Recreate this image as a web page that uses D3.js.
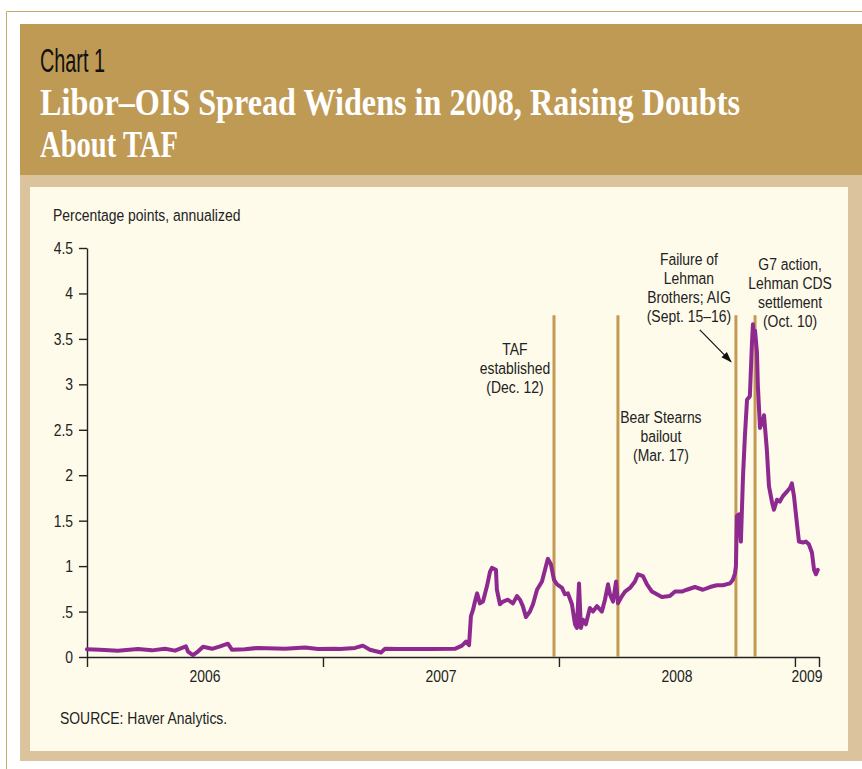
<!DOCTYPE html>
<html>
<head>
<meta charset="utf-8">
<script src="https://cdn.jsdelivr.net/npm/d3@7"></script>
<style>
  body { margin: 0; background: #fff; }
  svg { display: block; }
  .small { font-family: 'Liberation Sans', Arial, sans-serif; font-size: 17px; fill: #222; }
</style>
</head>
<body>
<script>
// Libor-OIS spread, percentage points (time as decimal years)
const years = [2006.000, 2006.055, 2006.131, 2006.216, 2006.275, 2006.331, 2006.373, 2006.419, 2006.428, 2006.449,
  2006.470, 2006.492, 2006.530, 2006.564, 2006.597, 2006.614, 2006.669, 2006.725, 2006.839, 2006.924,
  2006.979, 2007.051, 2007.072, 2007.136, 2007.169, 2007.199, 2007.246, 2007.263, 2007.326, 2007.453,
  2007.559, 2007.589, 2007.606, 2007.619, 2007.627, 2007.636, 2007.644, 2007.653, 2007.665, 2007.678,
  2007.695, 2007.708, 2007.716, 2007.733, 2007.737, 2007.750, 2007.763, 2007.784, 2007.805, 2007.822,
  2007.835, 2007.847, 2007.860, 2007.877, 2007.890, 2007.907, 2007.928, 2007.941, 2007.953, 2007.966,
  2007.979, 2007.992, 2008.013, 2008.025, 2008.038, 2008.055, 2008.068, 2008.076, 2008.085, 2008.093,
  2008.102, 2008.114, 2008.131, 2008.144, 2008.161, 2008.182, 2008.195, 2008.208, 2008.216, 2008.229,
  2008.242, 2008.250, 2008.267, 2008.280, 2008.301, 2008.322, 2008.335, 2008.356, 2008.373, 2008.394,
  2008.415, 2008.436, 2008.470, 2008.492, 2008.521, 2008.542, 2008.576, 2008.610, 2008.640, 2008.669,
  2008.695, 2008.725, 2008.737, 2008.746, 2008.750, 2008.754, 2008.763, 2008.771, 2008.780, 2008.788,
  2008.797, 2008.809, 2008.818, 2008.822, 2008.826, 2008.831, 2008.839, 2008.843, 2008.852, 2008.860,
  2008.869, 2008.881, 2008.890, 2008.903, 2008.911, 2008.924, 2008.936, 2008.949, 2008.966, 2008.979,
  2008.987, 2008.996, 2009.008, 2009.017, 2009.034, 2009.047, 2009.059, 2009.072, 2009.081, 2009.089,
  2009.097];
const spread = [0.084, 0.08, 0.07, 0.088, 0.073, 0.09, 0.07, 0.117, 0.06, 0.02,
  0.06, 0.113, 0.09, 0.117, 0.146, 0.08, 0.085, 0.10, 0.09, 0.105,
  0.088, 0.09, 0.088, 0.10, 0.125, 0.08, 0.05, 0.09, 0.088, 0.088,
  0.09, 0.125, 0.17, 0.13, 0.45, 0.52, 0.61, 0.70, 0.59, 0.61,
  0.78, 0.94, 0.98, 0.96, 0.74, 0.58, 0.61, 0.63, 0.59, 0.67,
  0.63, 0.56, 0.44, 0.50, 0.58, 0.74, 0.83, 0.96, 1.08, 1.02,
  0.85, 0.80, 0.76, 0.69, 0.70, 0.58, 0.36, 0.32, 0.81, 0.32,
  0.41, 0.36, 0.54, 0.50, 0.56, 0.50, 0.63, 0.80, 0.69, 0.61,
  0.83, 0.59, 0.67, 0.72, 0.76, 0.83, 0.91, 0.89, 0.80, 0.72,
  0.69, 0.66, 0.67, 0.72, 0.72, 0.74, 0.77, 0.74, 0.77, 0.79,
  0.79, 0.81, 0.85, 0.92, 1.00, 1.55, 1.57, 1.27, 1.99, 2.43,
  2.83, 2.87, 3.46, 3.66, 3.49, 3.59, 3.35, 2.98, 2.52, 2.58,
  2.66, 2.28, 1.88, 1.70, 1.62, 1.73, 1.71, 1.77, 1.82, 1.86,
  1.91, 1.77, 1.48, 1.27, 1.26, 1.27, 1.24, 1.15, 0.96, 0.91,
  0.96];

const yTicks = [0, 0.5, 1, 1.5, 2, 2.5, 3, 3.5, 4, 4.5];
const yTickLabels = ['0', '.5', '1', '1.5', '2', '2.5', '3', '3.5', '4', '4.5'];
const xBounds = [2006, 2007, 2008, 2009, 2009.102];
const xLabels = ['2006', '2007', '2008', '2009'];

const eventDates = [2007.979, 2008.250, 2008.750, 2008.831];
const eventTop = 3.76;
const eventLabels = [
  ['TAF', 'established', '(Dec. 12)'],
  ['Bear Stearns', 'bailout', '(Mar. 17)'],
  ['Failure of', 'Lehman', 'Brothers; AIG', '(Sept. 15\u201316)'],
  ['G7 action,', 'Lehman CDS', 'settlement', '(Oct. 10)']
];
// arrow from Lehman label to its line: [year, value]
const arrowFrom = [2008.597, 3.60];
const arrowTo = [2008.729, 3.25];

const width = 862, height = 769;
const narrow = 0.82;   // horizontal squeeze to mimic a condensed face

const svg = d3.select('body').append('svg')
  .attr('width', width).attr('height', height);

// condensed text helper: g at (x, y) scaled horizontally
function ctext(parent, px, py, str, anchor) {
  return parent.append('g')
    .attr('transform', `translate(${px},${py}) scale(${narrow},1)`)
    .append('text').attr('class', 'small')
    .attr('text-anchor', anchor || 'start')
    .text(str);
}

const defs = svg.append('defs');
defs.append('marker')
  .attr('id', 'arrow').attr('viewBox', '0 0 10 10')
  .attr('refX', 9).attr('refY', 5)
  .attr('markerWidth', 9).attr('markerHeight', 9)
  .attr('orient', 'auto')
  .append('path').attr('d', 'M0,1.5 L10,5 L0,8.5 Z').attr('fill', '#111');

// frame
svg.append('path')
  .attr('d', `M6.5,${height} V11.5 H${width}`)
  .attr('fill', 'none').attr('stroke', '#c9a86a').attr('stroke-width', 1);
svg.append('rect').attr('x', 20).attr('y', 24).attr('width', width - 20).attr('height', 151).attr('fill', '#bf9a55');
svg.append('rect').attr('x', 20).attr('y', 175).attr('width', width - 20).attr('height', 586).attr('fill', '#dac39d');
svg.append('rect').attr('x', 30).attr('y', 187).attr('width', 818).attr('height', 564).attr('fill', '#fefbea');

// header text
svg.append('text')
  .attr('x', 40).attr('y', 72)
  .attr('textLength', 65).attr('lengthAdjust', 'spacingAndGlyphs')
  .style('font-family', "'Liberation Sans', sans-serif")
  .style('font-size', '34px').style('fill', '#111')
  .text('Chart 1');

const titleLines = [
  { text: 'Libor\u2013OIS Spread Widens in 2008, Raising Doubts', y: 115, w: 700 },
  { text: 'About TAF', y: 157, w: 138 }
];
svg.selectAll('.title').data(titleLines).enter().append('text')
  .attr('class', 'title')
  .attr('x', 40).attr('y', d => d.y)
  .attr('textLength', d => d.w).attr('lengthAdjust', 'spacingAndGlyphs')
  .style('font-family', "'Liberation Serif', 'DejaVu Serif', serif")
  .style('font-weight', 'bold').style('font-size', '37px').style('fill', '#fff')
  .text(d => d.text);

// scales
const x = d3.scaleLinear().domain([xBounds[0], xBounds[xBounds.length - 1]]).range([87, 819]);
const y = d3.scaleLinear().domain([0, 4.5]).range([657, 248]);

// axis title
ctext(svg, 53, 221, 'Percentage points, annualized');

// y axis
const yAxis = svg.append('g')
  .attr('transform', 'translate(87,0)')
  .call(d3.axisLeft(y).tickValues(yTicks)
    .tickFormat((d, i) => yTickLabels[i])
    .tickSize(8).tickSizeOuter(0).tickPadding(6));
yAxis.selectAll('text')
  .attr('class', 'small')
  .attr('x', -14 / narrow)
  .attr('transform', `scale(${narrow},1)`);
yAxis.attr('font-family', null).attr('font-size', null);

// x axis
const xAxis = svg.append('g')
  .attr('transform', 'translate(0,657)')
  .call(d3.axisBottom(x).tickValues(xBounds).tickFormat('').tickSize(10).tickSizeOuter(0));

[yAxis, xAxis].forEach(g => {
  g.select('.domain').attr('stroke', '#222').attr('stroke-width', 1.4);
  g.selectAll('.tick line').attr('stroke', '#222').attr('stroke-width', 1.4);
});

xLabels.forEach((s, i) => {
  ctext(svg, (x(xBounds[i]) + x(xBounds[i + 1])) / 2, 682, s, 'middle');
});

// event lines
svg.selectAll('.event').data(eventDates).enter().append('line')
  .attr('class', 'event')
  .attr('x1', d => x(d)).attr('x2', d => x(d))
  .attr('y1', y(eventTop)).attr('y2', y(0))
  .attr('stroke', '#c49a52').attr('stroke-width', 3);

// series line
const line = d3.line()
  .x((d, i) => x(years[i]))
  .y(d => y(d));
svg.append('path')
  .datum(spread)
  .attr('d', line)
  .attr('fill', 'none')
  .attr('stroke', '#8e2a8f')
  .attr('stroke-width', 4)
  .attr('stroke-linejoin', 'round')
  .attr('stroke-linecap', 'round');

// annotations
const labelPos = [
  { dx: -39, y: 355 },
  { dx: 43, y: 423 },
  { dx: -47, y: 265 },
  { dx: 35, y: 270 }
];
eventLabels.forEach((lines, k) => {
  const t = svg.append('g')
    .attr('transform', `translate(${x(eventDates[k]) + labelPos[k].dx},0) scale(${narrow},1)`)
    .append('text').attr('class', 'small')
    .attr('text-anchor', 'middle');
  lines.forEach((s, j) => {
    t.append('tspan')
      .attr('x', 0)
      .attr('y', labelPos[k].y + j * 19)
      .text(s);
  });
});

svg.append('line')
  .attr('x1', x(arrowFrom[0])).attr('y1', y(arrowFrom[1]))
  .attr('x2', x(arrowTo[0])).attr('y2', y(arrowTo[1]))
  .attr('stroke', '#111').attr('stroke-width', 1.2)
  .attr('marker-end', 'url(#arrow)');

// source
ctext(svg, 60, 724, 'SOURCE: Haver Analytics.');
</script>
</body>
</html>
